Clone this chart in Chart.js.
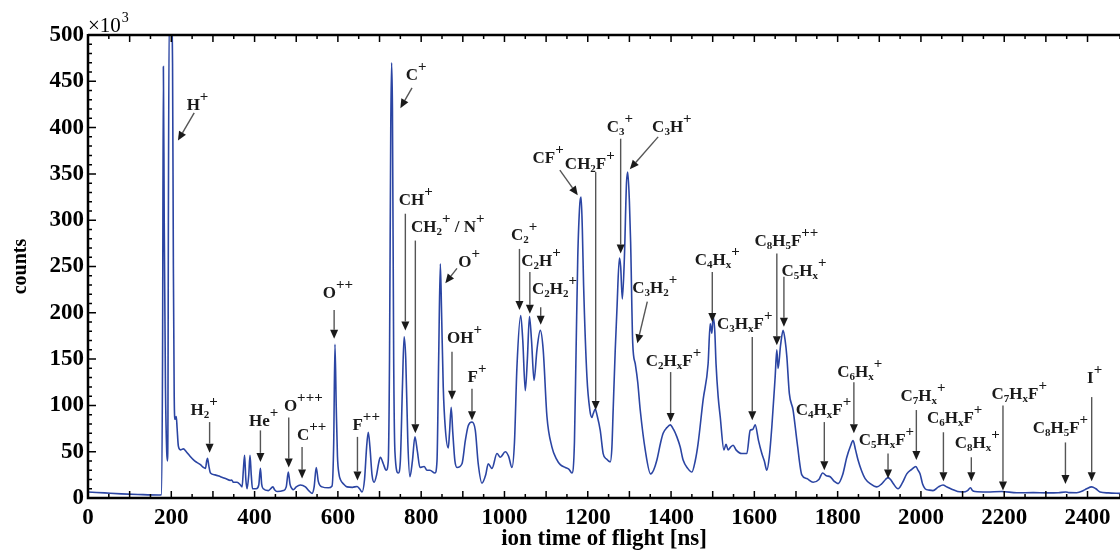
<!DOCTYPE html>
<html>
<head>
<meta charset="utf-8">
<script src="https://cdn.jsdelivr.net/npm/chart.js@4.4.1/dist/chart.umd.min.js"></script>
<style>
  html, body { margin: 0; padding: 0; background: #fff; }
</style>
</head>
<body>
<canvas id="tof-chart" width="1120" height="553"></canvas>
<script>
// tof-spectrum - ion time of flight spectrum (counts x10^3)

const tofNs = [
  0, 40, 80, 120, 170, 176, 179, 181, 183, 186, 189, 191, 192, 193, 195, 200, 203, 205, 207, 209,
  212, 214, 217, 222, 229, 236, 245, 256, 270, 277, 282, 285, 287, 290, 294, 305, 318, 330, 342, 345,
  349, 358, 366, 370, 373, 376, 379, 382, 386, 389, 392, 395, 404, 410, 414, 417, 421, 433, 444, 448,
  454, 469, 476, 481, 485, 490, 493, 500, 510, 522, 530, 538, 543, 548, 553, 562, 577, 586, 590, 593,
  596, 599, 603, 606, 614, 622, 635, 646, 652, 658, 664, 669, 673, 677, 682, 687, 693, 698, 702, 709,
  716, 721, 724, 727, 729, 731, 734, 737, 745, 750, 755, 759, 763, 768, 773, 779, 785, 791, 797, 807,
  814, 821, 833, 838, 842, 846, 849, 853, 858, 865, 868, 872, 876, 881, 886, 898, 906, 913, 922, 930,
  937, 946, 955, 961, 970, 982, 990, 1002, 1010, 1018, 1024, 1030, 1039, 1044, 1050, 1055, 1060, 1065, 1071, 1078,
  1086, 1093, 1102, 1114, 1125, 1134, 1146, 1155, 1162, 1168, 1172, 1176, 1181, 1184, 1187, 1190, 1198, 1205, 1210, 1213,
  1218, 1222, 1230, 1237, 1245, 1254, 1258, 1261, 1266, 1270, 1276, 1279, 1283, 1288, 1293, 1296, 1300, 1303, 1308, 1314,
  1320, 1326, 1338, 1351, 1358, 1366, 1375, 1381, 1390, 1398, 1406, 1414, 1422, 1429, 1440, 1450, 1458, 1465, 1477, 1489,
  1494, 1498, 1501, 1505, 1508, 1513, 1518, 1527, 1532, 1537, 1543, 1549, 1556, 1570, 1582, 1590, 1596, 1602, 1610, 1618,
  1624, 1630, 1636, 1642, 1650, 1654, 1657, 1663, 1669, 1674, 1678, 1684, 1693, 1703, 1714, 1726, 1741, 1755, 1764, 1773,
  1782, 1792, 1801, 1812, 1822, 1830, 1837, 1843, 1849, 1857, 1866, 1880, 1894, 1905, 1915, 1921, 1927, 1933, 1945, 1955,
  1966, 1978, 1988, 1993, 1998, 2004, 2010, 2020, 2029, 2042, 2053, 2062, 2074, 2088, 2101, 2112, 2119, 2124, 2130, 2158,
  2194, 2230, 2270, 2302, 2330, 2348, 2355, 2374, 2390, 2398, 2410, 2420, 2430, 2450, 2478
];

const countsK = [
  6.5, 5.5, 4.5, 3.8, 3.2, 3.5, 150, 466, 300, 120, 50, 40, 90, 300, 520, 520, 470, 250, 110, 85,
  88, 75, 56, 52, 53, 50, 45, 40, 36, 33, 32, 40, 43, 35, 27, 25, 23, 21, 19, 19.5,
  17, 17, 14, 12, 30, 46, 20, 10, 25, 46, 25, 10, 10, 14, 32, 15, 10, 8, 12, 9,
  7, 8, 12, 28, 15, 10, 9, 12, 14, 12, 8, 5, 12, 33, 18, 12, 11, 13, 60, 166,
  100, 45, 25, 20, 15, 12, 11.5, 12.5, 10, 6.5, 20, 55, 71, 55, 25, 17, 25, 38, 44, 37,
  30, 40, 150, 400, 470, 420, 150, 50, 27, 40, 120, 174, 150, 60, 23, 40, 66, 50, 33, 34,
  30, 30, 27, 40, 150, 253, 200, 120, 75, 54, 70, 98, 70, 40, 33, 37, 62, 78, 82, 73,
  37, 16, 25, 37, 32, 48, 44, 50, 45, 33, 60, 142, 197, 170, 116, 150, 196, 170, 127, 160,
  181, 160, 88, 55, 42, 36, 33, 31, 27, 60, 160, 260, 318, 325, 290, 230, 131, 95, 87, 91,
  96, 90, 73, 48, 42, 39, 55, 95, 160, 203, 259, 250, 215, 260, 340, 352, 320, 275, 167, 145,
  125, 95, 52, 26, 30, 41, 60, 70, 76, 79, 74, 66, 55, 41, 32, 28, 40, 59, 106, 145,
  188, 178, 196, 180, 145, 110, 88, 52, 58, 52, 55, 57, 52, 48, 48, 73, 74, 79, 62, 48,
  40, 30, 45, 77, 131, 160, 140, 165, 181, 170, 153, 113, 95, 59, 25, 21, 17, 20, 27, 24,
  23, 18, 15.5, 25, 44, 55, 62, 52, 41, 30, 21, 15, 12, 15, 20, 22, 20, 16, 10, 16,
  26, 31, 34, 30, 26, 15, 10, 8.5, 8, 12, 14, 12, 9.5, 7, 6.5, 8, 11, 8, 7, 6.5,
  7, 5.7, 5.8, 5.5, 5.7, 6.5, 5.8, 5.7, 8, 10, 12, 10, 6.5, 5.5, 5
];

// peak labels: text anchor (tx, ty) and arrow from (x0, y0) to (x1, y1), all in ns / 10^3 counts
const peakLabels = [
  { t: 'H^+',        tx: 263,  ty: 426, x0: 255,  y0: 416, x1: 216,  y1: 386 },
  { t: 'C^+',        tx: 788,  ty: 458, x0: 778,  y0: 443, x1: 750,  y1: 421 },
  { t: 'H_2^+',      tx: 279,  ty: 96,  x0: 292,  y0: 82,  x1: 292,  y1: 49 },
  { t: 'He^+',       tx: 422,  ty: 84,  x0: 414,  y0: 73,  x1: 414,  y1: 39 },
  { t: 'O^+++',      tx: 517,  ty: 100, x0: 482,  y0: 87,  x1: 482,  y1: 33 },
  { t: 'C^++',       tx: 537,  ty: 69,  x0: 514,  y0: 55,  x1: 514,  y1: 21 },
  { t: 'O^++',       tx: 600,  ty: 223, x0: 591,  y0: 203, x1: 591,  y1: 172 },
  { t: 'F^++',       tx: 668,  ty: 80,  x0: 647,  y0: 66,  x1: 647,  y1: 19 },
  { t: 'CH^+',       tx: 787,  ty: 323, x0: 762,  y0: 307, x1: 762,  y1: 181 },
  { t: 'CH_2^+ / N^+', tx: 864, ty: 294, x0: 786, y0: 278, x1: 786,  y1: 70 },
  { t: 'O^+',        tx: 915,  ty: 256, x0: 886,  y0: 248, x1: 858,  y1: 232 },
  { t: 'OH^+',       tx: 904,  ty: 174, x0: 874,  y0: 158, x1: 874,  y1: 106 },
  { t: 'F^+',        tx: 934,  ty: 132, x0: 922,  y0: 118, x1: 922,  y1: 84 },
  { t: 'C_2^+',      tx: 1047, ty: 285, x0: 1036, y0: 269, x1: 1036, y1: 203 },
  { t: 'C_2H^+',     tx: 1088, ty: 257, x0: 1061, y0: 244, x1: 1061, y1: 199 },
  { t: 'C_2H_2^+',   tx: 1120, ty: 227, x0: 1087, y0: 206, x1: 1087, y1: 187 },
  { t: 'CF^+',       tx: 1105, ty: 368, x0: 1133, y0: 354, x1: 1176, y1: 327 },
  { t: 'CH_2F^+',    tx: 1205, ty: 362, x0: 1219, y0: 352, x1: 1219, y1: 95 },
  { t: 'C_3^+',      tx: 1277, ty: 402, x0: 1279, y0: 388, x1: 1279, y1: 264 },
  { t: 'C_3H^+',     tx: 1402, ty: 402, x0: 1369, y0: 390, x1: 1301, y1: 355 },
  { t: 'C_3H_2^+',   tx: 1361, ty: 228, x0: 1343, y0: 212, x1: 1319, y1: 167 },
  { t: 'C_2H_xF^+',  tx: 1406, ty: 149, x0: 1399, y0: 136, x1: 1399, y1: 82 },
  { t: 'C_4H_x^+',   tx: 1511, ty: 258, x0: 1499, y0: 244, x1: 1499, y1: 190 },
  { t: 'C_3H_xF^+',  tx: 1577, ty: 189, x0: 1595, y0: 174, x1: 1595, y1: 84 },
  { t: 'C_8H_5F^++', tx: 1677, ty: 279, x0: 1654, y0: 264, x1: 1654, y1: 165 },
  { t: 'C_5H_x^+',   tx: 1719, ty: 246, x0: 1671, y0: 239, x1: 1671, y1: 185 },
  { t: 'C_4H_xF^+',  tx: 1766, ty: 96,  x0: 1768, y0: 82,  x1: 1768, y1: 30 },
  { t: 'C_6H_x^+',   tx: 1853, ty: 137, x0: 1839, y0: 125, x1: 1839, y1: 70 },
  { t: 'C_5H_xF^+',  tx: 1917, ty: 64,  x0: 1921, y0: 48,  x1: 1921, y1: 21 },
  { t: 'C_7H_x^+',   tx: 2005, ty: 111, x0: 1989, y0: 95,  x1: 1989, y1: 41 },
  { t: 'C_6H_xF^+',  tx: 2081, ty: 87,  x0: 2054, y0: 71,  x1: 2054, y1: 18 },
  { t: 'C_8H_x^+',   tx: 2135, ty: 61,  x0: 2121, y0: 44,  x1: 2121, y1: 18 },
  { t: 'C_7H_xF^+',  tx: 2236, ty: 113, x0: 2197, y0: 100, x1: 2197, y1: 8 },
  { t: 'C_8H_5F^+',  tx: 2335, ty: 77,  x0: 2347, y0: 60,  x1: 2347, y1: 15 },
  { t: 'I^+',        tx: 2417, ty: 131, x0: 2410, y0: 109, x1: 2410, y1: 18 }
];

const SERIF = '"Liberation Serif", "DejaVu Serif", serif';

// split "C_2H_x^+" into normal / sub / sup pieces
function parseLabel(text) {
  const segs = [];
  let i = 0;
  while (i < text.length) {
    const ch = text[i];
    if (ch === '_') {
      segs.push({ s: text[i + 1], k: 'sub' });
      i += 2;
    } else if (ch === '^') {
      let j = i + 1, s = '';
      while (j < text.length && text[j] === '+') { s += '+'; j++; }
      segs.push({ s, k: 'sup' });
      i = j;
    } else {
      let s = '';
      while (i < text.length && text[i] !== '_' && text[i] !== '^') { s += text[i]; i++; }
      segs.push({ s, k: 'n' });
    }
  }
  return segs;
}

const segFont = {
  n: 'bold 17px ' + SERIF,
  sub: 'bold 11px ' + SERIF,
  sup: 'bold 15px ' + SERIF
};
const segShift = { n: 0, sub: 3, sup: -9 };

function drawRich(ctx, text, cx, cy) {
  const segs = parseLabel(text);
  let total = 0;
  segs.forEach(seg => {
    ctx.font = segFont[seg.k];
    seg.w = ctx.measureText(seg.s).width;
    total += seg.w;
  });
  let x = cx - total / 2;
  const base = cy + 6;
  ctx.fillStyle = '#1a1a1a';
  ctx.textAlign = 'left';
  ctx.textBaseline = 'alphabetic';
  segs.forEach(seg => {
    ctx.font = segFont[seg.k];
    ctx.fillText(seg.s, x, base + segShift[seg.k]);
    x += seg.w;
  });
}

function drawArrow(ctx, x0, y0, x1, y1) {
  const ang = Math.atan2(y1 - y0, x1 - x0);
  const hl = 9, hw = 4;
  const bx = x1 - hl * Math.cos(ang), by = y1 - hl * Math.sin(ang);
  ctx.strokeStyle = '#555';
  ctx.lineWidth = 1.4;
  ctx.beginPath();
  ctx.moveTo(x0, y0);
  ctx.lineTo(bx, by);
  ctx.stroke();
  ctx.fillStyle = '#1a1a1a';
  ctx.beginPath();
  ctx.moveTo(x1, y1);
  ctx.lineTo(bx - hw * Math.sin(ang), by + hw * Math.cos(ang));
  ctx.lineTo(bx + hw * Math.sin(ang), by - hw * Math.cos(ang));
  ctx.closePath();
  ctx.fill();
}

// frame, inward ticks, peak labels and the x10^3 note
const decorPlugin = {
  id: 'decor',
  afterDatasetsDraw(chart) {
    const { ctx, chartArea: a, scales: { x, y } } = chart;
    ctx.save();

    peakLabels.forEach(p => {
      drawArrow(ctx, x.getPixelForValue(p.x0), y.getPixelForValue(p.y0),
                     x.getPixelForValue(p.x1), y.getPixelForValue(p.y1));
      drawRich(ctx, p.t, x.getPixelForValue(p.tx), y.getPixelForValue(p.ty));
    });

    ctx.strokeStyle = '#000';
    ctx.lineWidth = 1.5;
    ctx.beginPath();
    x.ticks.forEach(t => {
      const px = x.getPixelForValue(t.value);
      const len = t.value % 100 === 0 ? 7 : 4;
      ctx.moveTo(px, a.bottom); ctx.lineTo(px, a.bottom - len);
      ctx.moveTo(px, a.top); ctx.lineTo(px, a.top + len);
    });
    y.ticks.forEach(t => {
      const py = y.getPixelForValue(t.value);
      const len = t.value % 50 === 0 ? 8 : 4;
      ctx.moveTo(a.left, py); ctx.lineTo(a.left + len, py);
    });
    ctx.stroke();

    ctx.lineWidth = 2.5;
    ctx.beginPath();
    ctx.moveTo(a.left, a.top);
    ctx.lineTo(a.right, a.top);
    ctx.moveTo(a.left, a.top - 1);
    ctx.lineTo(a.left, a.bottom);
    ctx.lineTo(a.right, a.bottom);
    ctx.stroke();

    ctx.fillStyle = '#000';
    ctx.textAlign = 'left';
    ctx.textBaseline = 'alphabetic';
    ctx.font = '21px ' + SERIF;
    ctx.fillText('\u00d710', a.left, a.top - 3);
    const w = ctx.measureText('\u00d710').width;
    ctx.font = '14px ' + SERIF;
    ctx.fillText('3', a.left + w + 1, a.top - 13);
    ctx.restore();
  }
};

const ctx = document.getElementById('tof-chart').getContext('2d');

new Chart(ctx, {
  type: 'line',
  data: {
    datasets: [{
      label: 'counts',
      data: tofNs.map((t, i) => ({ x: t, y: countsK[i] })),
      borderColor: '#2b45a3',
      borderWidth: 1.6,
      pointRadius: 0,
      fill: false,
      cubicInterpolationMode: 'monotone'
    }]
  },
  options: {
    responsive: false,
    animation: false,
    devicePixelRatio: 1,
    layout: { padding: { top: 35, right: 0, left: 0, bottom: 0 } },
    plugins: {
      legend: { display: false },
      tooltip: { enabled: false }
    },
    scales: {
      x: {
        type: 'linear',
        min: 0,
        max: 2478,
        grid: { display: false, drawTicks: false },
        border: { display: false },
        ticks: {
          stepSize: 50,
          autoSkip: false,
          maxRotation: 0,
          padding: 6,
          color: '#000',
          font: { family: SERIF, size: 23, weight: 'bold' },
          callback: v => (v % 200 === 0 ? v : '')
        },
        title: {
          display: true,
          text: 'ion time of flight [ns]',
          color: '#000',
          font: { family: SERIF, size: 23, weight: 'bold' },
          padding: { top: 0, bottom: 0 }
        },
        afterFit: scale => {
          scale.height = 55;
          scale.paddingRight = 0;
        }
      },
      y: {
        min: 0,
        max: 500,
        grid: { display: false, drawTicks: false },
        border: { display: false },
        ticks: {
          stepSize: 10,
          autoSkip: false,
          padding: 4,
          color: '#000',
          font: { family: SERIF, size: 23, weight: 'bold' },
          callback: v => (v % 50 === 0 ? v : '')
        },
        title: {
          display: true,
          text: 'counts',
          color: '#000',
          font: { family: SERIF, size: 20, weight: 'bold' },
          padding: { top: 9, bottom: 4 }
        },
        afterFit: scale => { scale.width = 88; }
      }
    }
  },
  plugins: [decorPlugin]
});
</script>
</body>
</html>
